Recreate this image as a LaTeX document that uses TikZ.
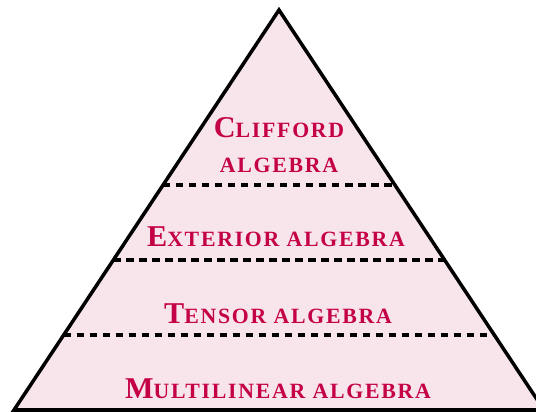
\documentclass[tikz,border=0pt]{standalone}
\usepackage{fontspec}
\setmainfont{Liberation Serif}[LetterSpace=8]
\usetikzlibrary{calc}
\definecolor{layerfill}{RGB}{248,228,235}
\definecolor{layertext}{RGB}{196,0,70}
\newcommand\fakesc[2]{{\fontsize{17.2}{21}\selectfont #1}{\fontsize{12.4}{21}\selectfont #2}}
\tikzset{layer/.style={anchor=base,text=layertext,font=\bfseries,align=center,inner sep=0pt}}

\begin{document}
\begin{tikzpicture}[line width=2pt]
\useasboundingbox (-5.58,-0.04) rectangle (5.14,8.2);
\coordinate (apex) at (0,8);
\coordinate (left) at (-5.3,0);
\coordinate (right) at (5.3,0);
\fill[layerfill] (left)--(apex)--(right)--cycle;
\foreach \f in {0.1875,0.375,0.5625}
 \draw[line width=1.9pt,dash pattern=on 4.2pt off 3.2pt] ($(left)!\f!(apex)$)--($(right)!\f!(apex)$);
\draw (left)--(apex)--(right)--cycle;
\node[layer] (multilinear) at (-0.02,0.23) {\fakesc{M}{ULTILINEAR ALGEBRA}};
\node[layer] (tensor) at (-0.02,1.73) {\fakesc{T}{ENSOR ALGEBRA}};
\node[layer] (exterior) at (-0.06,3.27) {\fakesc{E}{XTERIOR ALGEBRA}};
\node[layer] (clifford) at (0,4.75) {\fakesc{C}{LIFFORD}\\[8pt]\fakesc{}{ALGEBRA}};
\end{tikzpicture}
\end{document}
